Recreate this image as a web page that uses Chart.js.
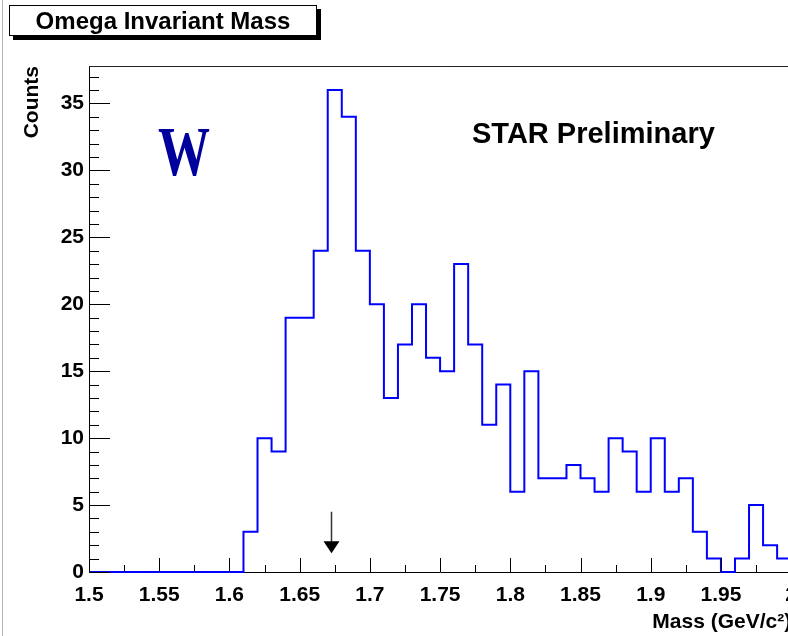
<!DOCTYPE html>
<html>
<head>
<meta charset="utf-8">
<script src="https://cdn.jsdelivr.net/npm/chart.js@4"></script>
<style>
  body { margin: 0; overflow: hidden; background: #fff; }
  #wrap { width: 808px; height: 636px; }
</style>
</head>
<body>
<div id="wrap"><canvas id="massChart" width="808" height="636"></canvas></div>
<script>
// histogram: 50 bins of 0.01 from 1.5 to 2.0
const xMin = 1.5;
const xMax = 2.0;
const binWidth = 0.01;
const counts = [
    0, 0, 0, 0, 0, 0, 0, 0, 0, 0,
    0, 3, 10, 9, 19, 19, 24, 36, 34, 24,
    20, 13, 17, 20, 16, 15, 23, 17, 11, 14,
    6, 15, 7, 7, 8, 7, 6, 10, 9, 6,
    10, 6, 7, 3, 1, 0, 1, 5, 2, 1
];
const yMax = 37.8;
const omegaMass = 1.672;

function getPoints() {
    const pts = counts.map((c, i) => ({ x: xMin + i * binWidth, y: c }));
    pts.push({ x: xMax, y: counts[counts.length - 1] });
    return pts;
}

const font = 'Liberation Sans, Arial, sans-serif';

// ROOT style decorations: inner ticks, frame, title box, labels, arrow
const decorations = {
    id: 'decorations',
    afterDatasetsDraw(chart) {
        const ctx = chart.ctx;
        const area = chart.chartArea;
        const xs = chart.scales.x;
        const ys = chart.scales.y;
        ctx.save();

        // pad border
        ctx.strokeStyle = '#b4b4b4';
        ctx.lineWidth = 1;
        ctx.beginPath();
        ctx.moveTo(2.5, 0);
        ctx.lineTo(2.5, 636);
        ctx.stroke();

        // frame top and right
        ctx.strokeStyle = '#222';
        ctx.beginPath();
        ctx.moveTo(area.left, area.top + 0.5);
        ctx.lineTo(area.right, area.top + 0.5);
        ctx.lineTo(area.right, area.bottom);
        ctx.stroke();

        // y ticks inside
        ctx.strokeStyle = '#000';
        ctx.beginPath();
        for (let v = 0; v <= Math.floor(yMax); v++) {
            const py = Math.round(ys.getPixelForValue(v)) + 0.5;
            const len = v % 5 === 0 ? 21 : 10;
            ctx.moveTo(area.left, py);
            ctx.lineTo(area.left + len, py);
        }
        // x ticks inside
        for (let k = 0; k <= 20; k++) {
            const v = xMin + k * 0.025;
            const px = Math.round(xs.getPixelForValue(v)) + 0.5;
            const len = k % 2 === 0 ? 14 : 7;
            ctx.moveTo(px, area.bottom);
            ctx.lineTo(px, area.bottom - len);
        }
        ctx.stroke();

        // arrow at the omega mass
        const ax = Math.round(xs.getPixelForValue(omegaMass)) + 0.5;
        const aTop = ys.getPixelForValue(4.5);
        const aTip = ys.getPixelForValue(1.4);
        ctx.strokeStyle = '#333';
        ctx.lineWidth = 1.5;
        ctx.beginPath();
        ctx.moveTo(ax, aTop);
        ctx.lineTo(ax, aTip - 10);
        ctx.stroke();
        ctx.fillStyle = '#000';
        ctx.beginPath();
        ctx.moveTo(ax - 8, aTip - 12);
        ctx.lineTo(ax + 8, aTip - 12);
        ctx.lineTo(ax, aTip);
        ctx.closePath();
        ctx.fill();

        // title box with shadow
        ctx.fillStyle = '#000';
        ctx.fillRect(13, 9, 308, 31);
        ctx.fillStyle = '#fff';
        ctx.fillRect(9, 5, 308, 31);
        ctx.strokeStyle = '#000';
        ctx.lineWidth = 1;
        ctx.strokeRect(9.5, 5.5, 307, 30);
        ctx.fillStyle = '#000';
        ctx.font = 'bold 24px ' + font;
        ctx.textAlign = 'center';
        ctx.textBaseline = 'alphabetic';
        ctx.fillText('Omega Invariant Mass', 163, 29);

        // STAR Preliminary
        ctx.textAlign = 'left';
        ctx.font = 'bold 29px ' + font;
        ctx.fillText('STAR Preliminary', 472, 143);

        // omega symbol (rendered as W)
        ctx.fillStyle = '#00009c';
        ctx.font = 'bold 52px Liberation Serif, Times New Roman, serif';
        ctx.translate(158, 175);
        ctx.scale(1, 1.36);
        ctx.fillText('W', 0, 0);

        ctx.restore();
    }
};

const data = {
    datasets: [{
        label: 'Omega Invariant Mass',
        data: getPoints(),
        stepped: 'before',
        borderColor: '#0000ff',
        borderWidth: 2,
        pointRadius: 0,
        fill: false,
        clip: false
    }]
};

const config = {
    type: 'line',
    data,
    options: {
        responsive: false,
        animation: false,
        events: [],
        layout: { padding: { left: 0, top: 66, right: 0, bottom: 0 } },
        plugins: {
            legend: { display: false },
            tooltip: { enabled: false }
        },
        scales: {
            x: {
                type: 'linear',
                min: xMin,
                max: xMax,
                grid: { display: false, drawTicks: false },
                border: { display: true, color: '#000', width: 1 },
                ticks: {
                    stepSize: 0.05,
                    includeBounds: false,
                    padding: 11,
                    color: '#000',
                    font: { family: font, size: 21, weight: 'bold' },
                    callback: v => String(Number(v.toFixed(2)))
                },
                title: {
                    display: true,
                    text: 'Mass (GeV/c²)',
                    align: 'end',
                    color: '#000',
                    font: { family: font, size: 21, weight: 'bold' },
                    padding: { top: 0, bottom: 1 }
                },
                afterFit: s => { s.height = 64; }
            },
            y: {
                type: 'linear',
                min: 0,
                max: yMax,
                grid: { display: false, drawTicks: false },
                border: { display: true, color: '#000', width: 1 },
                ticks: {
                    stepSize: 5,
                    includeBounds: false,
                    padding: 5,
                    color: '#000',
                    font: { family: font, size: 21, weight: 'bold' }
                },
                title: {
                    display: true,
                    text: 'Counts',
                    align: 'end',
                    color: '#000',
                    font: { family: font, size: 21, weight: 'bold' },
                    padding: { top: 20, bottom: 0 }
                },
                afterFit: s => { s.width = 89; }
            }
        }
    },
    plugins: [decorations]
};

var massChart = new Chart(document.getElementById('massChart'), config);
</script>
</body>
</html>
